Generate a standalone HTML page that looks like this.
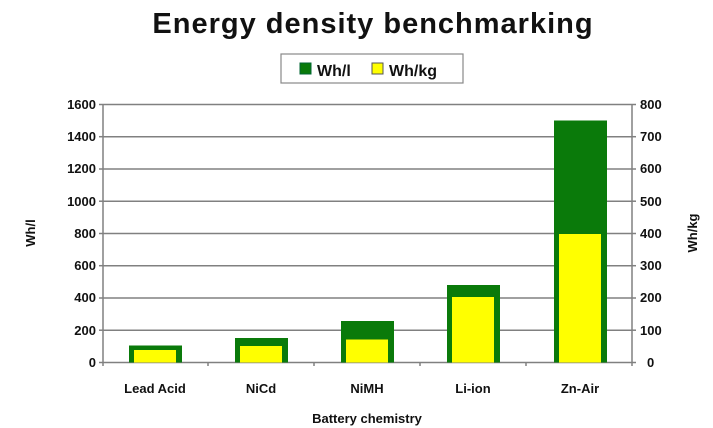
<!DOCTYPE html>
<html><head><meta charset="utf-8"><style>
html,body{margin:0;padding:0;background:#fff;}
svg{display:block;font-family:"Liberation Sans",Arial,sans-serif;font-weight:bold;}
</style></head><body>
<svg width="713" height="428" viewBox="0 0 713 428" xmlns="http://www.w3.org/2000/svg">
<text x="373" y="33" text-anchor="middle" font-size="29" letter-spacing="1" fill="#111">Energy density benchmarking</text>
<rect x="281" y="54" width="182" height="29" fill="#fff" stroke="#888" stroke-width="1.2"/>
<rect x="300" y="63" width="11" height="11" fill="#0a7a0a" stroke="#063"/>
<text x="317" y="76" font-size="16" fill="#111">Wh/l</text>
<rect x="372" y="63" width="11" height="11" fill="#ffff00" stroke="#555"/>
<text x="389" y="76" font-size="16" fill="#111">Wh/kg</text>
<g stroke="#808080" stroke-width="1.5">
<line x1="103" y1="104.5" x2="632" y2="104.5"/>
<line x1="103" y1="136.7" x2="632" y2="136.7"/>
<line x1="103" y1="169" x2="632" y2="169"/>
<line x1="103" y1="201.2" x2="632" y2="201.2"/>
<line x1="103" y1="233.5" x2="632" y2="233.5"/>
<line x1="103" y1="265.7" x2="632" y2="265.7"/>
<line x1="103" y1="298" x2="632" y2="298"/>
<line x1="103" y1="330.2" x2="632" y2="330.2"/>
<line x1="103" y1="362.5" x2="636" y2="362.5"/>
<line x1="103" y1="104" x2="103" y2="362"/>
<line x1="632" y1="104" x2="632" y2="366"/>
<line x1="99" y1="104.5" x2="103" y2="104.5"/><line x1="99" y1="136.7" x2="103" y2="136.7"/><line x1="99" y1="169" x2="103" y2="169"/><line x1="99" y1="201.2" x2="103" y2="201.2"/><line x1="99" y1="233.5" x2="103" y2="233.5"/><line x1="99" y1="265.7" x2="103" y2="265.7"/><line x1="99" y1="298" x2="103" y2="298"/><line x1="99" y1="330.2" x2="103" y2="330.2"/><line x1="99" y1="362.5" x2="103" y2="362.5"/>
<line x1="632" y1="104.5" x2="636" y2="104.5"/><line x1="632" y1="136.7" x2="636" y2="136.7"/><line x1="632" y1="169" x2="636" y2="169"/><line x1="632" y1="201.2" x2="636" y2="201.2"/><line x1="632" y1="233.5" x2="636" y2="233.5"/><line x1="632" y1="265.7" x2="636" y2="265.7"/><line x1="632" y1="298" x2="636" y2="298"/><line x1="632" y1="330.2" x2="636" y2="330.2"/>
<line x1="208" y1="362" x2="208" y2="366"/><line x1="314" y1="362" x2="314" y2="366"/><line x1="420" y1="362" x2="420" y2="366"/><line x1="526" y1="362" x2="526" y2="366"/><line x1="103" y1="362" x2="103" y2="366"/>
</g>
<g font-size="13" fill="#111" text-anchor="end">
<text x="96" y="109">1600</text><text x="96" y="141">1400</text><text x="96" y="173">1200</text><text x="96" y="206">1000</text><text x="96" y="238">800</text><text x="96" y="270">600</text><text x="96" y="302">400</text><text x="96" y="335">200</text><text x="96" y="367">0</text>
</g>
<g font-size="13" fill="#111" text-anchor="start">
<text x="640" y="109">800</text><text x="640" y="141">700</text><text x="640" y="173">600</text><text x="640" y="206">500</text><text x="640" y="238">400</text><text x="640" y="270">300</text><text x="640" y="302">200</text><text x="640" y="335">100</text><text x="647" y="367">0</text>
</g>
<g fill="#0a7a0a">
<rect x="129" y="345.5" width="53" height="17"/>
<rect x="235" y="338" width="53" height="24.5"/>
<rect x="341" y="321" width="53" height="41.5"/>
<rect x="447" y="285" width="53" height="77.5"/>
<rect x="554" y="120.5" width="53" height="242"/>
</g>
<g fill="#ffff00">
<rect x="134" y="350" width="42" height="12.5"/>
<rect x="240" y="346" width="42" height="16.5"/>
<rect x="346" y="339.5" width="42" height="23"/>
<rect x="452" y="297" width="42" height="65.5"/>
<rect x="559" y="234" width="42" height="128.5"/>
</g>
<g font-size="13" fill="#111" text-anchor="middle">
<text x="155" y="393">Lead Acid</text><text x="261" y="393">NiCd</text><text x="367" y="393">NiMH</text><text x="473" y="393">Li-ion</text><text x="580" y="393">Zn-Air</text>
<text x="367" y="423">Battery chemistry</text>
<text transform="translate(35,233) rotate(-90)">Wh/l</text>
<text transform="translate(697,233) rotate(-90)">Wh/kg</text>
</g>
</svg>
</body></html>
